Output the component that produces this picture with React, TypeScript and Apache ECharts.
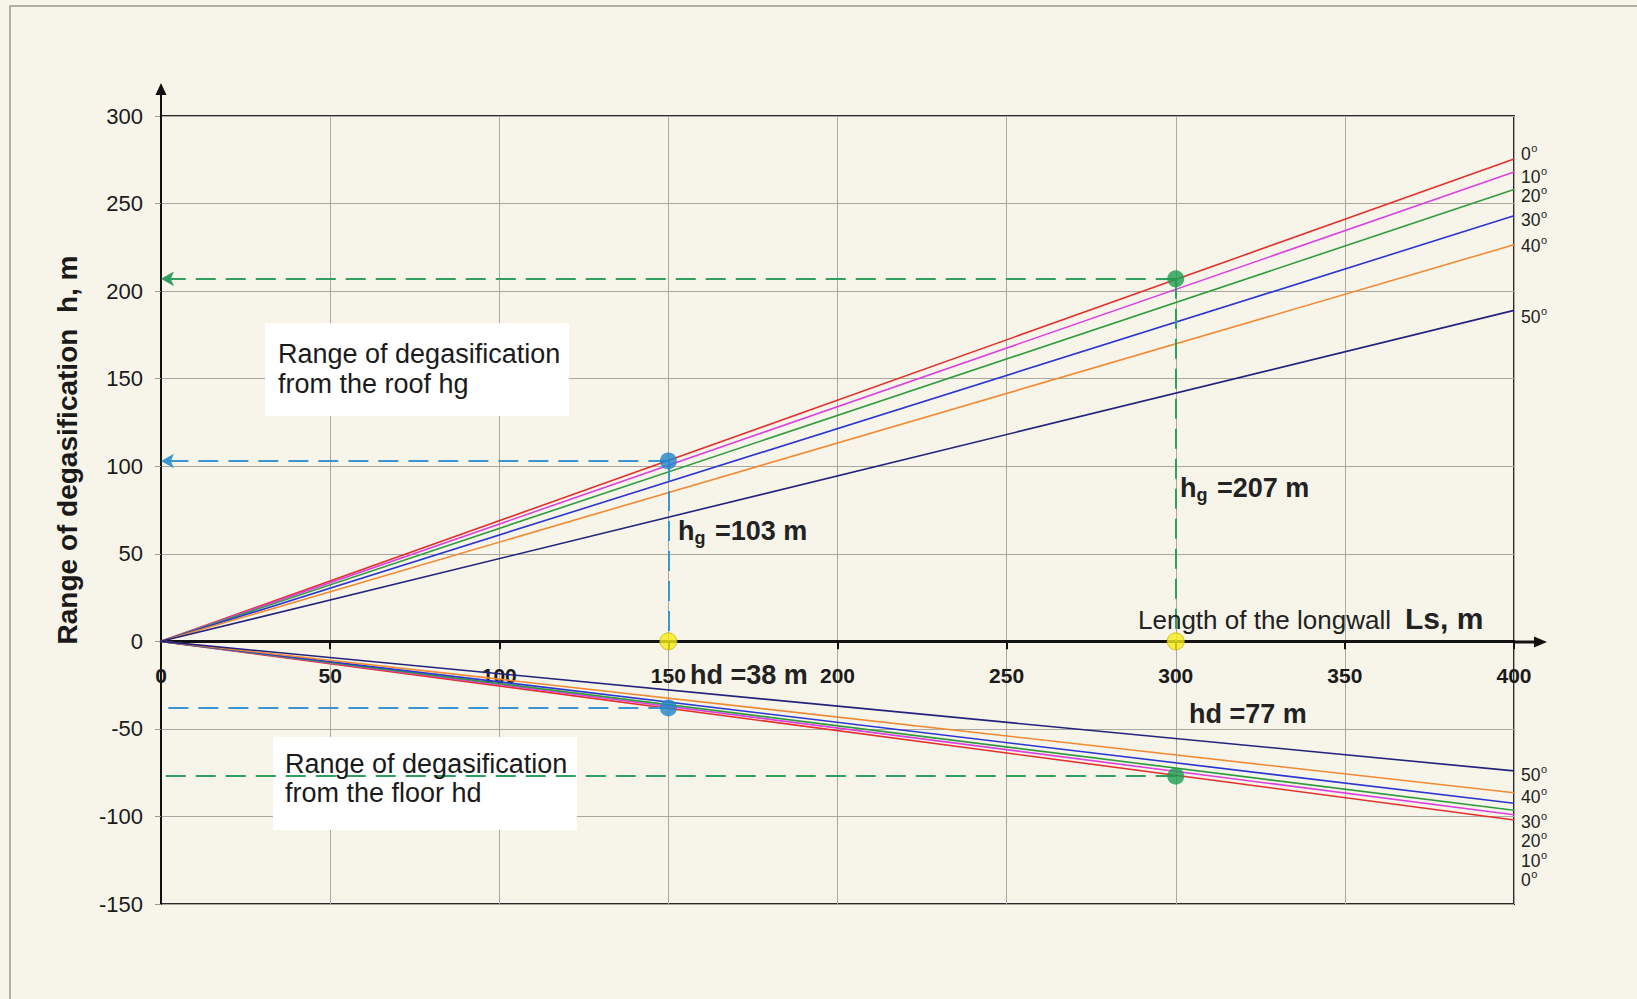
import React, { useEffect, useRef } from 'react';
import * as echarts from 'echarts';

// ---- data ----
const angleLabels = ['0', '10', '20', '30', '40', '50'];
const lineColors = ['#e2312d', '#dc3fe0', '#2f9b3e', '#2b36d2', '#f28a35', '#23237d'];
const lengthRange = [0, 400];
const roofAtEnd = [275.5, 268, 258, 243, 226.5, 189];
const floorAtEnd = [-102, -99, -96.5, -92.5, -86.5, -74];
const readingLengths = [150, 300];
const roofReadings = [103, 207];
const floorReadings = [-38, -77];
const readingColors = ['#2185c8', '#1b9e4f'];
const guideColors = ['#3a95d2', '#2f9e5e'];

const FONT = '"Liberation Sans", Arial, sans-serif';
const BG = '#f7f5e9';

// label placement (pixels) for angle captions at the right edge
const topLabelY = [154, 176.7, 196.3, 220, 245.7, 316.7];
const bottomLabelY = [880, 860.7, 840.7, 821.7, 796.7, 775];

function angleLabel(txt: string, y: number) {
  const dw = txt.length * 0.556 * 17.5;
  return {
    type: 'group',
    silent: true,
    z: 10,
    children: [
      { type: 'text', x: 1521, y, style: { text: txt, font: `17.5px ${FONT}`, fill: '#222', align: 'left', verticalAlign: 'middle' } },
      { type: 'text', x: 1521 + dw + 0.5, y: y - 6, style: { text: 'o', font: `11px ${FONT}`, fill: '#222', align: 'left', verticalAlign: 'middle' } },
    ],
  };
}

function subLabel(x: number, baseline: number, sub: string, rest: string) {
  const F = 27;
  return {
    type: 'group',
    silent: true,
    z: 10,
    children: [
      { type: 'text', x, y: baseline - 0.35 * F, style: { text: 'h', font: `bold ${F}px ${FONT}`, fill: '#222', align: 'left', verticalAlign: 'middle' } },
      { type: 'text', x: x + 16.5, y: baseline + 4 - 0.35 * 18, style: { text: sub, font: `bold 18px ${FONT}`, fill: '#222', align: 'left', verticalAlign: 'middle' } },
      { type: 'text', x: x + 37, y: baseline - 0.35 * F, style: { text: rest, font: `bold ${F}px ${FONT}`, fill: '#222', align: 'left', verticalAlign: 'middle' } },
    ],
  };
}

function plainText(x: number, baseline: number, text: string, size: number, bold: boolean) {
  return {
    type: 'text',
    silent: true,
    z: 10,
    x,
    y: baseline - 0.35 * size,
    style: { text, font: `${bold ? 'bold ' : ''}${size}px ${FONT}`, fill: '#222', align: 'left', verticalAlign: 'middle' },
  };
}

function buildOption() {
  const series: any[] = [];
  angleLabels.forEach((a, i) => {
    series.push({
      name: `roof ${a}°`,
      type: 'line',
      data: [[lengthRange[0], 0], [lengthRange[1], roofAtEnd[i]]],
      symbol: 'none',
      silent: true,
      z: 3,
      lineStyle: { color: lineColors[i], width: 1.6 },
    });
    series.push({
      name: `floor ${a}°`,
      type: 'line',
      data: [[lengthRange[0], 0], [lengthRange[1], floorAtEnd[i]]],
      symbol: 'none',
      silent: true,
      z: 3,
      lineStyle: { color: lineColors[i], width: 1.6 },
    });
  });

  const dash = [20, 10];
  const guides: any[] = [];
  readingLengths.forEach((L, i) => {
    const c = guideColors[i];
    const ls = { color: c, type: dash, width: 2 };
    guides.push([
      { coord: [L, roofReadings[i]], symbol: 'none', lineStyle: ls },
      { coord: [0, roofReadings[i]], symbol: 'arrow', symbolSize: [11, 13], lineStyle: ls },
    ]);
    guides.push([
      { coord: [L, roofReadings[i]], symbol: 'none', lineStyle: ls },
      { coord: [L, 0], symbol: 'none', lineStyle: ls },
    ]);
    guides.push([
      { coord: [L, floorReadings[i]], symbol: 'none', lineStyle: ls },
      { coord: [0, floorReadings[i]], symbol: 'none', lineStyle: ls },
    ]);
  });

  const readingPoints: any[] = [];
  readingLengths.forEach((L, i) => {
    readingPoints.push({ value: [L, roofReadings[i]], itemStyle: { color: readingColors[i] } });
    readingPoints.push({ value: [L, floorReadings[i]], itemStyle: { color: readingColors[i] } });
  });

  series.push({
    name: 'readings',
    type: 'scatter',
    data: readingPoints,
    symbolSize: 17,
    z: 6,
    silent: true,
    markLine: {
      silent: true,
      animation: false,
      symbol: ['none', 'none'],
      label: { show: false },
      z: 5,
      data: guides,
    },
  });
  series.push({
    name: 'lengths',
    type: 'scatter',
    data: readingLengths.map((L) => [L, 0]),
    symbolSize: 17,
    z: 6,
    silent: true,
    itemStyle: { color: '#f8ec16', borderColor: '#c8b400', borderWidth: 1 },
  });

  const graphic: any[] = [
    { type: 'rect', silent: true, z: -10, shape: { x: 10, y: 6, width: 1700, height: 1100 }, style: { fill: 'none', stroke: '#9b978b', lineWidth: 1.5 } },
    // white info boxes
    { type: 'rect', silent: true, z: 1, shape: { x: 265, y: 323, width: 304, height: 93 }, style: { fill: '#ffffff' } },
    { type: 'rect', silent: true, z: 1, shape: { x: 273, y: 737, width: 304, height: 93 }, style: { fill: '#ffffff' } },
    { type: 'text', silent: true, z: 10, x: 278, y: 339, style: { text: 'Range of degasification\nfrom the roof hg', font: `27px ${FONT}`, lineHeight: 30, fill: '#1a1a1a', align: 'left', verticalAlign: 'top' } },
    { type: 'text', silent: true, z: 10, x: 285, y: 749, style: { text: 'Range of degasification\nfrom the floor hd', font: `27px ${FONT}`, lineHeight: 29, fill: '#1a1a1a', align: 'left', verticalAlign: 'top' } },
    // y axis title
    { type: 'text', silent: true, z: 10, x: 67, y: 450, rotation: Math.PI / 2, style: { text: 'Range of degasification  h, m', font: `bold 28px ${FONT}`, fill: '#1a1a1a', align: 'center', verticalAlign: 'middle' } },
    // axis extensions with arrows
    { type: 'line', silent: true, z: 10, shape: { x1: 161, y1: 117, x2: 161, y2: 93 }, style: { stroke: '#111', lineWidth: 2 } },
    { type: 'polygon', silent: true, z: 10, shape: { points: [[155.5, 95], [161, 83], [166.5, 95]] }, style: { fill: '#111' } },
    { type: 'line', silent: true, z: 10, shape: { x1: 1513, y1: 642, x2: 1537, y2: 642 }, style: { stroke: '#111', lineWidth: 3 } },
    { type: 'polygon', silent: true, z: 10, shape: { points: [[1534, 636.5], [1547, 642], [1534, 647.5]] }, style: { fill: '#111' } },
    // annotations
    subLabel(678, 540, 'g', '=103 m'),
    subLabel(1180, 497, 'g', '=207 m'),
    plainText(690, 684, 'hd =38 m', 27, true),
    plainText(1189, 723, 'hd =77 m', 27, true),
    plainText(1138, 629, 'Length of the longwall', 26, false),
    plainText(1405, 629, 'Ls, m', 30, true),
  ];
  angleLabels.forEach((a, i) => {
    graphic.push(angleLabel(a, topLabelY[i]));
    graphic.push(angleLabel(a, bottomLabelY[i]));
  });

  return {
    animation: false,
    backgroundColor: BG,
    textStyle: { fontFamily: FONT },
    grid: {
      left: 161,
      top: 116,
      width: 1353,
      height: 788,
      show: true,
      borderColor: '#2a2a2a',
      borderWidth: 2,
      backgroundColor: 'transparent',
    },
    xAxis: {
      type: 'value',
      min: 0,
      max: 400,
      interval: 50,
      axisLine: { show: true, onZero: true, lineStyle: { color: '#111', width: 3 } },
      axisTick: { show: true, length: 8, lineStyle: { color: '#111', width: 2 } },
      axisLabel: { fontSize: 21, fontWeight: 'bold', color: '#1a1a1a', margin: -239, fontFamily: FONT },
      splitLine: { show: true, lineStyle: { color: '#aaa89f', width: 1 } },
    },
    yAxis: {
      type: 'value',
      min: -150,
      max: 300,
      interval: 50,
      axisLine: { show: true, onZero: false, lineStyle: { color: '#111', width: 2 } },
      axisTick: { show: true, length: 6, lineStyle: { color: '#999', width: 1 } },
      axisLabel: { fontSize: 22, color: '#1a1a1a', margin: 18, fontFamily: FONT },
      splitLine: { show: true, lineStyle: { color: '#aaa89f', width: 1 } },
    },
    series,
    graphic,
  };
}

export default function App() {
  const ref = useRef<HTMLDivElement>(null);
  useEffect(() => {
    const chart = echarts.init(ref.current as HTMLDivElement, null, { renderer: 'svg' });
    chart.setOption(buildOption() as any);
    return () => chart.dispose();
  }, []);
  return (
    <div
      ref={ref}
      style={{ position: 'fixed', left: 0, top: 0, width: 1637, height: 999, background: BG }}
    />
  );
}
